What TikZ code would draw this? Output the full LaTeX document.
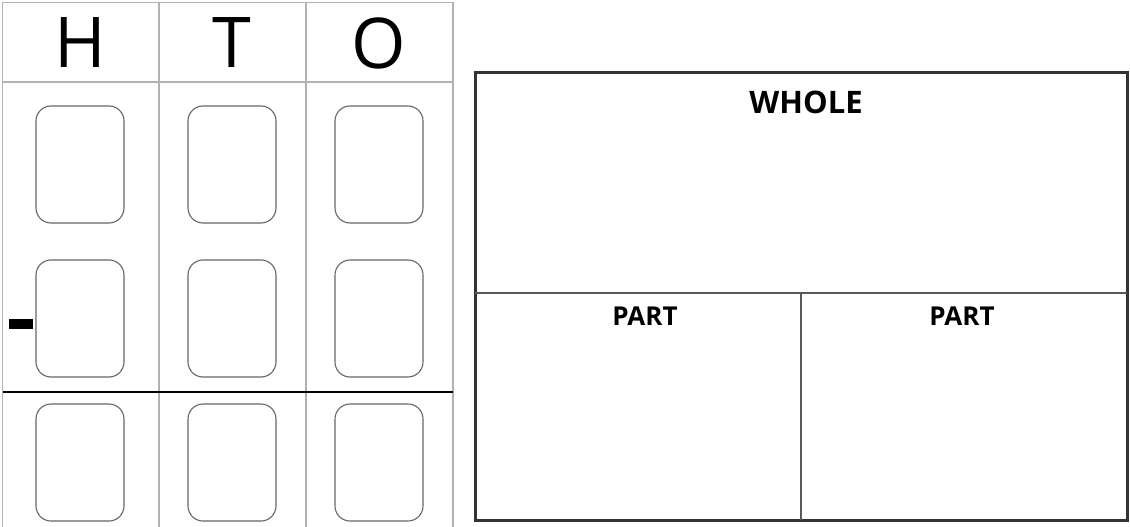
\documentclass[tikz,border=0pt]{standalone}
\usepackage{fontspec}
\setmainfont{Open Sans}
\begin{document}
\begin{tikzpicture}[x=1pt,y=-1pt,
  grid/.style={draw=black!30,line width=1.5pt},
  slot/.style={draw=black!60,line width=1.1pt,rounded corners=15pt,minimum width=88pt,minimum height=117pt,inner sep=0pt},
  digit/.style={font=\fontsize{70}{70}\selectfont,inner sep=0pt,anchor=center},
  frame/.style={draw=black!80,line width=3pt},
  divider/.style={draw=black!65,line width=2.5pt},
  lbl/.style={font=\bfseries\fontsize{31}{31}\selectfont,inner sep=0pt,anchor=north}
]
\useasboundingbox (0,0) rectangle (1130,527);
% left table
\draw[grid] (2.7,527) -- (2.7,2.7) -- (453,2.7) -- (453,527);
\draw[grid] (159,2.7) -- (159,527);
\draw[grid] (306,2.7) -- (306,527);
\draw[grid] (2.7,82) -- (453,82);
\draw[black,line width=2pt] (2.7,391.5) -- (453,391.5);
\node[digit] (h) at (80,43) {H};
\node[digit] (t) at (232,43) {T};
\node[digit] (o) at (379,43) {O};
\foreach \c/\x in {a/80,b/232,c/379}{
  \node[slot] (\c1) at (\x,164.5) {};
  \node[slot] (\c2) at (\x,318.5) {};
  \node[slot] (\c3) at (\x,462.5) {};
}
\fill[black] (9,319) rectangle (33,329);
% right part-whole
\draw[frame] (475,73) rectangle (1127,520);
\draw[divider] (475,293) -- (1127,293);
\draw[divider] (801,293) -- (801,520);
\node[lbl] (whole) at (806,91) {WHOLE};
\node[lbl,font=\bfseries\fontsize{26}{26}\selectfont] (p1) at (645,307) {PART};
\node[lbl,font=\bfseries\fontsize{26}{26}\selectfont] (p2) at (962,307) {PART};
\end{tikzpicture}
\end{document}
